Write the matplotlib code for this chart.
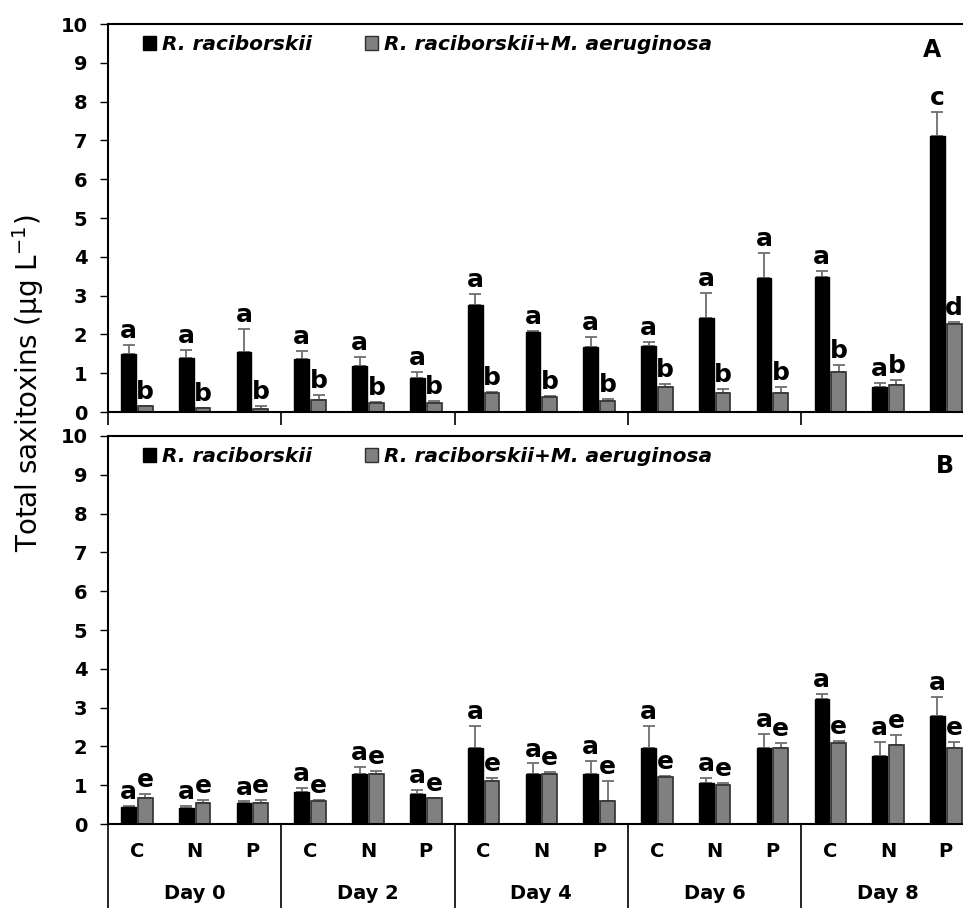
import matplotlib
matplotlib.use('Agg')
import matplotlib.pyplot as plt
from matplotlib.patches import Patch
import numpy as np

days = ['Day 0', 'Day 2', 'Day 4', 'Day 6', 'Day 8']
treatments = ['C', 'N', 'P']
series_names = ['R. raciborskii', 'R. raciborskii+M. aeruginosa']

# panel A
a_rr = [1.50, 1.39, 1.55, 1.37, 1.19, 0.88, 2.76, 2.06, 1.67, 1.71, 2.42, 3.45, 3.48, 0.64, 7.12]
a_rr_err = [0.22, 0.22, 0.58, 0.21, 0.22, 0.14, 0.27, 0.02, 0.27, 0.09, 0.65, 0.65, 0.16, 0.11, 0.61]
a_mix = [0.15, 0.10, 0.07, 0.32, 0.23, 0.23, 0.50, 0.38, 0.29, 0.64, 0.48, 0.49, 1.03, 0.70, 2.27]
a_mix_err = [0.01, 0.01, 0.08, 0.11, 0.04, 0.06, 0.02, 0.03, 0.04, 0.09, 0.11, 0.15, 0.17, 0.12, 0.06]
a_rr_letters = ['a'] * 13 + ['a', 'c']
a_mix_letters = ['b'] * 14 + ['d']

# panel B
b_rr = [0.45, 0.40, 0.55, 0.83, 1.29, 0.77, 1.95, 1.30, 1.30, 1.95, 1.05, 1.95, 3.22, 1.75, 2.79]
b_rr_err = [0.02, 0.06, 0.03, 0.10, 0.19, 0.11, 0.57, 0.26, 0.32, 0.57, 0.14, 0.38, 0.14, 0.37, 0.48]
b_mix = [0.67, 0.55, 0.55, 0.58, 1.29, 0.66, 1.11, 1.30, 0.59, 1.22, 1.00, 1.95, 2.10, 2.03, 1.95]
b_mix_err = [0.10, 0.06, 0.06, 0.04, 0.08, 0.02, 0.08, 0.03, 0.52, 0.02, 0.05, 0.15, 0.05, 0.26, 0.17]
b_rr_letters = ['a'] * 15
b_mix_letters = ['e'] * 15

GRAY = '#808080'
ERR = '#6e6e6e'

plt.rcParams['font.weight'] = 'bold'

fig = plt.figure(figsize=(9.63, 9.08), dpi=100)
W, H = 963, 908
axA = fig.add_axes([108 / W, (H - 412) / H, 866.7 / W, 388 / H])
axB = fig.add_axes([108 / W, (H - 824) / H, 866.7 / W, 388 / H])

x = np.arange(len(days) * len(treatments)) + 0.5
bw = 0.255
off = 0.145


def draw_panel(ax, rr, rr_err, mix, mix_err, rr_lab, mix_lab, tag, tagpos):
    ax.bar(x - off, rr, bw, color='black', edgecolor='black', linewidth=1, zorder=2)
    ax.bar(x + off, mix, bw, color=GRAY, edgecolor='#303030', linewidth=1.2, zorder=2)
    zero = np.zeros(len(x))
    # drawn under the bars so only the upper half shows
    ax.errorbar(x - off, rr, yerr=[zero, rr_err], fmt='none', ecolor=ERR,
                elinewidth=1.3, capsize=4.5, capthick=1.3, zorder=1)
    ax.errorbar(x + off, mix, yerr=[zero, mix_err], fmt='none', ecolor=ERR,
                elinewidth=1.3, capsize=4.5, capthick=1.3, zorder=1)
    for i in range(len(x)):
        ax.annotate(rr_lab[i], (x[i] - off, rr[i] + rr_err[i]), xytext=(0, 5),
                    textcoords='offset points', ha='center', va='baseline',
                    fontsize=18, fontweight='bold')
        ax.annotate(mix_lab[i], (x[i] + off, mix[i] + mix_err[i]), xytext=(0, 5),
                    textcoords='offset points', ha='center', va='baseline',
                    fontsize=18, fontweight='bold')
    ax.set_xlim(0, 15)
    ax.set_ylim(0, 10)
    ax.set_yticks(range(0, 11))
    ax.set_xticks(np.arange(0, 16, 3))
    ax.set_xticklabels([])
    ax.tick_params(axis='y', direction='out', length=5.8, width=1, pad=9, labelsize=14)
    for s in ['left', 'bottom', 'top']:
        ax.spines[s].set_linewidth(1.5)
    ax.spines['right'].set_visible(False)
    handles = [Patch(facecolor='black', edgecolor='black'),
               Patch(facecolor=GRAY, edgecolor='#303030')]
    ax.legend(handles, series_names, loc='upper left', bbox_to_anchor=(0.040, 0.972),
              ncol=2, frameon=False, borderpad=0, borderaxespad=0,
              handlelength=0.65, handleheight=0.65, handletextpad=0.3,
              columnspacing=2.65, prop={'size': 14.5, 'weight': 'bold', 'style': 'italic'})
    ax.text(tagpos[0], tagpos[1], tag, transform=ax.transAxes, ha='center', va='center',
            fontsize=17, fontweight='bold')


draw_panel(axA, a_rr, a_rr_err, a_mix, a_mix_err, a_rr_letters, a_mix_letters, 'A', (0.951, 0.933))
draw_panel(axB, b_rr, b_rr_err, b_mix, b_mix_err, b_rr_letters, b_mix_letters, 'B', (0.966, 0.923))

axA.tick_params(axis='x', which='major', direction='out', length=9.4, width=1.2)
axB.tick_params(axis='x', which='major', direction='out', length=70, width=1.2)

# category and day labels under panel B
axB.set_xticks(x, minor=True)
axB.set_xticklabels(treatments * len(days), minor=True)
axB.tick_params(axis='x', which='minor', length=0, pad=13, labelsize=14)
for k, d in enumerate(days):
    axB.text(3 * k + 1.5, -0.178, d, transform=axB.get_xaxis_transform(),
             ha='center', va='center', fontsize=14, fontweight='bold')

fig.text(28 / W, 1 - 383 / H, 'Total saxitoxins (μg L$^{\\mathregular{-1}}$)', rotation=90,
         ha='center', va='center', fontsize=20, fontweight='normal')

fig.savefig('out.png', dpi=100)
